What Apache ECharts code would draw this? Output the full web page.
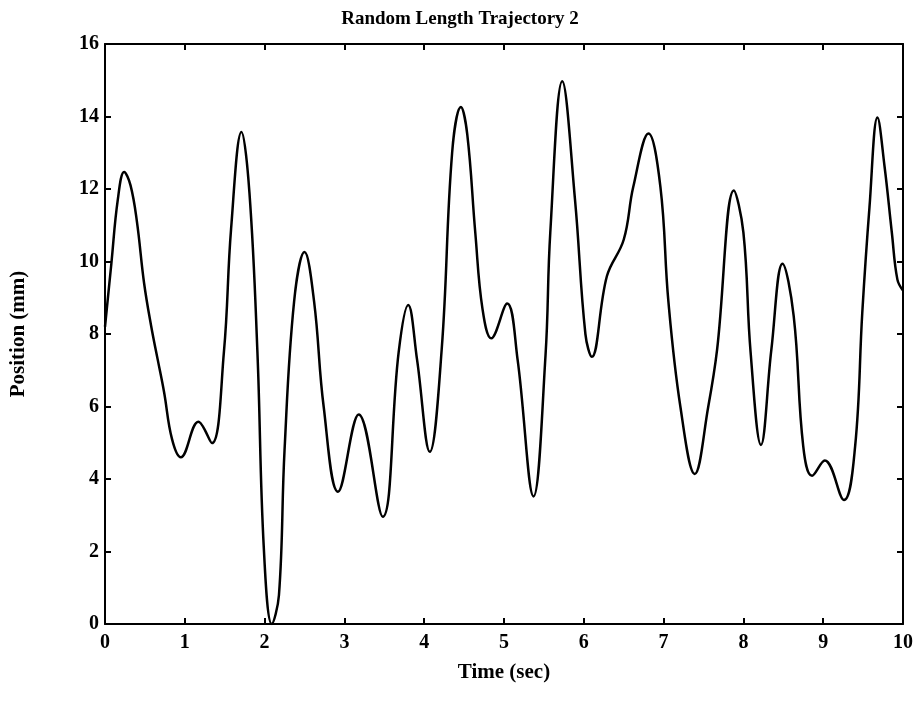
<!DOCTYPE html>
<html>
<head>
<meta charset="utf-8">
<script src="https://cdn.jsdelivr.net/npm/echarts@6/dist/echarts.min.js"></script>
<style>
  html, body { margin: 0; padding: 0; background: #fff; }
  #main { width: 920px; height: 710px; }
</style>
</head>
<body>
<div id="main"></div>
<script>
  // time (sec) and position (mm)
  var timeSec = [0, 0.08, 0.16, 0.24, 0.32, 0.40, 0.49, 0.58, 0.66, 0.74, 0.84, 0.95, 1.17, 1.34, 1.49, 1.58, 1.71, 1.81, 1.91, 1.99, 2.09,
    2.18, 2.25, 2.37, 2.50, 2.62, 2.74, 2.92, 3.18, 3.48, 3.68, 3.80, 3.91, 4.07, 4.22, 4.35, 4.46, 4.54, 4.64, 4.73, 4.84,
    5.04, 5.17, 5.37, 5.52, 5.58, 5.73, 5.89, 6.02, 6.10, 6.29, 6.50, 6.62, 6.81, 6.96, 7.06, 7.21, 7.39, 7.56, 7.67, 7.88,
    8.00, 8.09, 8.22, 8.35, 8.49, 8.63, 8.75, 8.86, 9.02, 9.26, 9.40, 9.49, 9.58, 9.68, 9.77, 9.86, 9.93, 10]
  var positionMm = [8.2, 9.95, 11.7, 12.47, 12.1, 11.1, 9.4, 8.2, 7.3, 6.4, 5.1, 4.6, 5.58, 4.99, 7.5, 10.9, 13.57, 11.9, 7.5, 2.1, 0,
    0.8, 4.8, 8.9, 10.26, 8.9, 6.0, 3.65, 5.78, 2.96, 7.5, 8.8, 7.3, 4.75, 7.6, 13.0, 14.26, 13.5, 10.8, 8.7, 7.88,
    8.84, 7.3, 3.52, 7.4, 10.8, 14.97, 11.7, 8.0, 7.37, 9.6, 10.6, 12.06, 13.53, 12.06, 8.9, 6.0, 4.14, 6.0, 7.56, 11.96,
    10.8, 7.5, 4.94, 7.56, 9.94, 8.5, 4.9, 4.09, 4.51, 3.42, 4.9, 8.6, 11.5, 13.97, 12.6, 10.8, 9.5, 9.2]
  var xTicks = [0, 1, 2, 3, 4, 5, 6, 7, 8, 9, 10]
  var yTicks = [0, 2, 4, 6, 8, 10, 12, 14, 16]

  var points = timeSec.map(function (t, i) { return [t, positionMm[i]] })

  var font = '"Liberation Serif", "DejaVu Serif", serif'
  var tickText = { fontFamily: font, fontWeight: 'bold', fontSize: 20, color: '#000' }
  var lineStyle = { color: '#000', width: 2 }

  var chart = echarts.init(document.getElementById('main'))
  var option = {
    animation: false,
    backgroundColor: '#fff',
    title: {
      text: 'Random Length Trajectory 2',
      left: 'center',
      top: 5,
      textStyle: { fontFamily: font, fontWeight: 'bold', fontSize: 19, color: '#000' }
    },
    grid: { left: 104, right: 17, top: 44, bottom: 86, containLabel: false },
    xAxis: [
      {
        type: 'value',
        min: xTicks[0],
        max: xTicks[xTicks.length - 1],
        interval: 1,
        name: 'Time (sec)',
        nameLocation: 'middle',
        nameGap: 38,
        nameTextStyle: { fontFamily: font, fontWeight: 'bold', fontSize: 21, color: '#000' },
        axisLine: { onZero: false, lineStyle: lineStyle },
        axisTick: { inside: true, length: 6, lineStyle: lineStyle },
        axisLabel: Object.assign({ margin: 9 }, tickText),
        splitLine: { show: false }
      },
      {
        type: 'value',
        position: 'top',
        min: xTicks[0],
        max: xTicks[xTicks.length - 1],
        interval: 1,
        axisLine: { onZero: false, lineStyle: lineStyle },
        axisTick: { inside: true, length: 6, lineStyle: lineStyle },
        axisLabel: { show: false },
        splitLine: { show: false }
      }
    ],
    yAxis: [
      {
        type: 'value',
        min: yTicks[0],
        max: yTicks[yTicks.length - 1],
        interval: 2,
        name: 'Position (mm)',
        nameLocation: 'middle',
        nameGap: 76,
        nameTextStyle: { fontFamily: font, fontWeight: 'bold', fontSize: 21, color: '#000' },
        axisLine: { onZero: false, lineStyle: lineStyle },
        axisTick: { inside: true, length: 6, lineStyle: lineStyle },
        axisLabel: Object.assign({ margin: 6 }, tickText),
        splitLine: { show: false }
      },
      {
        type: 'value',
        position: 'right',
        min: yTicks[0],
        max: yTicks[yTicks.length - 1],
        interval: 2,
        axisLine: { onZero: false, lineStyle: lineStyle },
        axisTick: { inside: true, length: 6, lineStyle: lineStyle },
        axisLabel: { show: false },
        splitLine: { show: false }
      }
    ],
    series: [
      {
        type: 'line',
        data: points,
        smooth: 0.4,
        showSymbol: false,
        clip: true,
        lineStyle: { color: '#000', width: 2.5 }
      }
    ]
  }
  chart.setOption(option)
</script>
</body>
</html>
